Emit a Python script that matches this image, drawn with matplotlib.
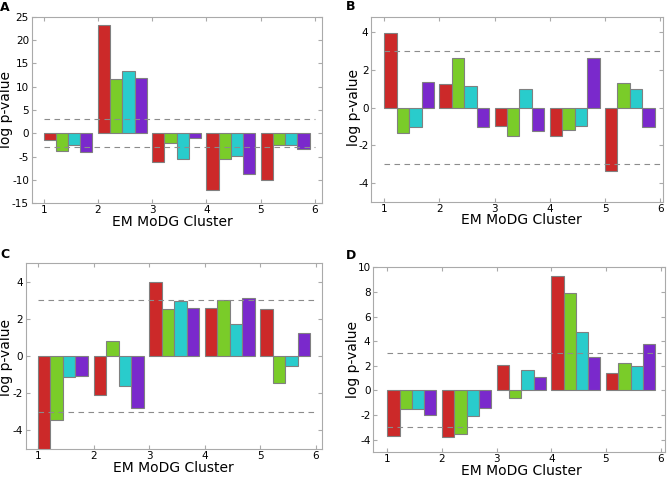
import matplotlib
matplotlib.use('Agg')
import matplotlib.pyplot as plt
import numpy as np

plt.rcParams['axes.unicode_minus'] = False

clusters = [1, 2, 3, 4, 5]
colors = ['#cc2929', '#7acc29', '#29cccc', '#7a29cc']

# rows = clusters, columns = the four series (red, green, cyan, purple)
vals_a = [[-1.5, -3.7, -2.6, -3.9],
          [23.2, 11.6, 13.4, 11.9],
          [-6.2, -2.0, -5.4, -0.9],
          [-12.2, -5.6, -4.9, -8.8],
          [-9.9, -2.4, -2.4, -3.3]]
vals_b = [[3.96, -1.37, -1.04, 1.34],
          [1.27, 2.63, 1.15, -1.02],
          [-0.97, -1.53, 1.0, -1.25],
          [-1.53, -1.18, -0.99, 2.64],
          [-3.35, 1.32, 1.0, -1.02]]
vals_c = [[-5.3, -3.45, -1.13, -1.07],
          [-2.08, 0.83, -1.6, -2.77],
          [4.0, 2.52, 2.98, 2.61],
          [2.61, 3.0, 1.73, 3.12],
          [2.54, -1.44, -0.53, 1.23]]
vals_d = [[-3.71, -1.52, -1.52, -2.03],
          [-3.81, -3.57, -2.08, -1.41],
          [2.08, -0.59, 1.68, 1.12],
          [9.33, 7.92, 4.72, 2.75],
          [1.39, 2.21, 1.95, 3.81]]

# letter, data, axes box (l, r, t, b px), xlim, ylim, yticks,
# xlabel (x, baseline), ylabel (x, y), letter pos (x, baseline)
panels = [
    ('A', vals_a, [31.7, 322, 16.7, 203.3], (0.78, 6.13), (-15, 25), np.arange(-15, 26, 5),
     (172, 226), (6.5, 109), (0, 11)),
    ('B', vals_b, [371.3, 663, 17.3, 202], (0.765, 6.05), (-5, 4.78), np.arange(-4, 5, 2),
     (521, 224), (353.5, 107), (346, 10)),
    ('C', vals_c, [25.7, 322, 263.3, 449], (0.78, 6.11), (-5, 5), np.arange(-4, 5, 2),
     (173, 472), (6, 358), (0, 258)),
    ('D', vals_d, [373.3, 665, 267.3, 452], (0.745, 6.08), (-5, 10), np.arange(-4, 11, 2),
     (521, 475), (353, 360), (346, 259)),
]

W, H = 669, 478
fig = plt.figure(figsize=(W / 100, H / 100), dpi=100)
width = 0.225

for letter, vals, (l, r, t, b), xl, yl, yt, xlab, ylab, let in panels:
    ax = fig.add_axes([l / W, 1 - b / H, (r - l) / W, (b - t) / H])
    vals = np.array(vals)
    for k in range(4):
        ax.bar(np.array(clusters) + k * width, vals[:, k], width, align='edge',
               color=colors[k], edgecolor='#808080', linewidth=0.8, zorder=2)
    ax.hlines([3, -3], 1, 6, colors='#8c8c8c', linestyles=(0, (5, 4)), lw=0.8, zorder=3)
    ax.set_xlim(*xl)
    ax.set_ylim(*yl)
    ax.set_xticks([1, 2, 3, 4, 5, 6])
    ax.set_yticks(yt)
    for s in ax.spines.values():
        s.set_color('#aaaaaa')
    ax.tick_params(direction='in', which='both', top=True, right=True,
                   color='#aaaaaa', labelsize=7.5, length=3, pad=2)
    ax.tick_params(axis='x', pad=1.5)
    fig.text(xlab[0] / W, 1 - xlab[1] / H, 'EM MoDG Cluster', fontsize=10,
             ha='center', va='baseline')
    fig.text(ylab[0] / W, 1 - ylab[1] / H, 'log p-value', fontsize=10,
             rotation=90, ha='center', va='center')
    fig.text(let[0] / W, 1 - let[1] / H, letter, fontsize=9, fontweight='bold',
             ha='left', va='baseline')

fig.savefig('out.png', dpi=100)
